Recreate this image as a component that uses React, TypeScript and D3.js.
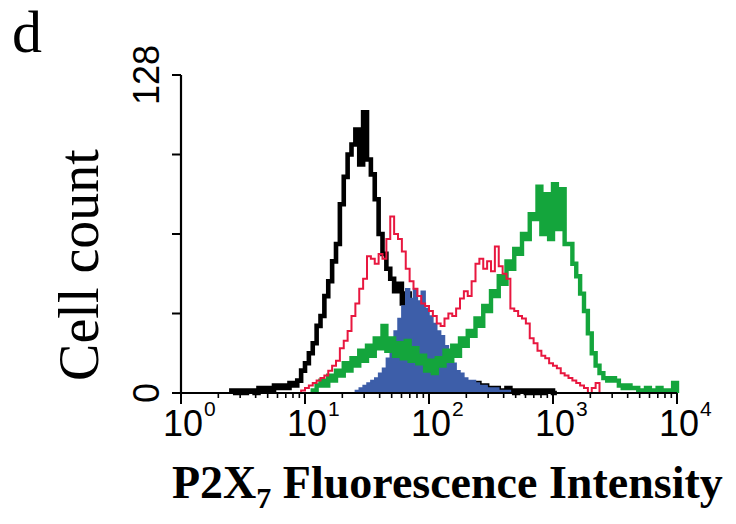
import React from "react";
import * as d3 from "d3";

// Histogram channels: 32 bins per decade, bin i spans 10^(i/32) .. 10^((i+1)/32)
const BINS_PER_DECADE = 32;

const isotypeStart = 13; // black
const isotypeCounts = [
  1, 0, 1, 0, 1, 1, 0, 2, 1, 2, 1, 3, 2, 3, 2, 4, 3, 5, 9, 12,
  16, 20, 27, 31, 39, 45, 53, 60, 76, 87, 96, 100, 106, 92, 113, 94, 88, 78, 64, 56,
  50, 46, 41, 44, 36, 40, 30, 24, 20, 17, 14, 12, 9, 8, 7, 6, 5, 6, 4, 5,
  3, 4, 3, 4, 2, 3, 2, 1, 2, 1, 1, 2, 1, 0, 1, 1, 0, 1, 0, 1,
  0, 1, 1, 0,
];

const blueStart = 45; // blue filled
const blueCounts = [
  1, 2, 3, 4, 5, 6, 8, 10, 14, 19, 25, 30, 35, 42, 38, 42, 37, 41, 34, 31,
  28, 25, 23, 19, 16, 12, 9, 8, 6, 5, 5, 4, 3, 3, 2, 2, 2, 1, 1, 1, 0,
];

const greenStart = 34; // green
const greenCounts = [
  1, 3, 5, 3, 7, 5, 9, 7, 12, 9, 14, 11, 17, 13, 19, 15, 22, 18, 27, 17,
  22, 15, 20, 14, 21, 13, 18, 12, 15, 9, 13, 8, 14, 11, 17, 13, 19, 15, 22, 19,
  25, 23, 30, 27, 35, 33, 41, 39, 47, 44, 53, 50, 58, 56, 64, 62, 72, 70, 83, 64,
  80, 62, 84, 66, 82, 60, 60, 52, 47, 40, 33, 24, 16, 11, 8, 6, 5, 6, 5, 3,
  2, 3, 2, 2, 1, 1, 2, 1, 1, 2, 1, 1, 1, 4,
];

const redStart = 31; // red
const redCounts = [
  1, 2, 3, 4, 5, 6, 7, 9, 11, 13, 18, 21, 25, 31, 36, 42, 46, 55, 54, 52,
  56, 54, 62, 71, 64, 62, 57, 50, 45, 42, 39, 36, 35, 33, 31, 28, 27, 30, 32, 31,
  34, 38, 41, 39, 45, 52, 54, 50, 53, 49, 59, 51, 48, 46, 34, 33, 31, 30, 28, 22,
  20, 17, 15, 14, 12, 11, 10, 8, 7, 6, 5, 4, 3, 2, 0, 2, 4, 0,
];

const yTicks = [0, 32, 64, 96, 128];
const yTickLabels = ["0", "128"];
const xMajor = [1, 10, 100, 1000, 10000];
const xExponents = ["0", "1", "2", "3", "4"];

const W = 736;
const H = 524;
const x = d3.scaleLog().domain([1, 1e4]).range([181, 677]);
const y = d3.scaleLinear().domain([0, 128]).range([393, 75]);

const edge = (i: number) => Math.pow(10, i / BINS_PER_DECADE);

function toPoints(start: number, counts: number[]): [number, number][] {
  const pts: [number, number][] = [[edge(start), 0]];
  counts.forEach((c, k) => pts.push([edge(start + k), c]));
  pts.push([edge(start + counts.length), 0]);
  return pts;
}

const lineGen = d3
  .line<[number, number]>()
  .x((d) => x(d[0]))
  .y((d) => y(d[1]))
  .curve(d3.curveStepAfter);

const areaGen = d3
  .area<[number, number]>()
  .x((d) => x(d[0]))
  .y0(y(0))
  .y1((d) => y(d[1]))
  .curve(d3.curveStepAfter);

const minorTicks: number[] = [];
for (let e = 0; e < 4; e++) {
  for (let m = 2; m <= 9; m++) minorTicks.push(m * Math.pow(10, e));
}

export default function App() {
  return (
    <svg
      width={W}
      height={H}
      style={{ position: "absolute", left: 0, top: 0, background: "#fff" }}
    >
      <rect width={W} height={H} fill="#fff" />
      {/* panel letter */}
      <text x={12} y={52} fontFamily="Liberation Serif, Times New Roman, serif" fontSize={60}>
        d
      </text>

      {/* histograms */}
      <path d={lineGen(toPoints(isotypeStart, isotypeCounts)) || ""} fill="none" stroke="#000" strokeWidth={4.6} />
      <path d={areaGen(toPoints(blueStart, blueCounts)) || ""} fill="#3d5ea9" stroke="#3d5ea9" strokeWidth={1.5} />
      <path d={lineGen(toPoints(greenStart, greenCounts)) || ""} fill="none" stroke="#14a53c" strokeWidth={4.4} />
      <path d={lineGen(toPoints(redStart, redCounts)) || ""} fill="none" stroke="#e8173f" strokeWidth={2} />

      {/* y axis */}
      <line x1={181} x2={181} y1={y(128)} y2={y(0)} stroke="#000" strokeWidth={2.2} />
      {yTicks.map((t) => (
        <line key={t} x1={172} x2={181} y1={y(t)} y2={y(t)} stroke="#000" strokeWidth={2} />
      ))}
      {[0, 128].map((t, i) => (
        <text
          key={t}
          transform={`translate(159,${y(t)}) rotate(-90)`}
          textAnchor="middle"
          fontFamily="Liberation Sans, Arial, sans-serif"
          fontSize={36}
        >
          {yTickLabels[i]}
        </text>
      ))}

      {/* x axis */}
      <line x1={x(1)} x2={x(1e4)} y1={y(0)} y2={y(0)} stroke="#000" strokeWidth={2.2} />
      {minorTicks.map((t) => (
        <line key={t} x1={x(t)} x2={x(t)} y1={y(0)} y2={y(0) + 5} stroke="#000" strokeWidth={1.6} />
      ))}
      {xMajor.map((t, i) => (
        <g key={t}>
          <line x1={x(t)} x2={x(t)} y1={y(0)} y2={y(0) + 11} stroke="#000" strokeWidth={2} />
          <text
            x={x(t) + 2}
            y={436}
            textAnchor="middle"
            fontFamily="Liberation Sans, Arial, sans-serif"
            fontSize={36}
          >
            10
          </text>
          <text
            x={x(t) + 23}
            y={416}
            fontFamily="Liberation Sans, Arial, sans-serif"
            fontSize={21}
          >
            {xExponents[i]}
          </text>
        </g>
      ))}

      {/* axis titles */}
      <text
        transform="translate(98,265) rotate(-90)"
        textAnchor="middle"
        fontFamily="Liberation Serif, Times New Roman, serif"
        fontSize={56}
      >
        Cell count
      </text>
      <text
        x={172}
        y={498}
        fontFamily="Liberation Serif, Times New Roman, serif"
        fontWeight="bold"
        fontSize={46}
      >
        P2X
        <tspan fontSize={30} dy={10}>7</tspan>
        <tspan dy={-10}> Fluorescence Intensity</tspan>
      </text>
    </svg>
  );
}
